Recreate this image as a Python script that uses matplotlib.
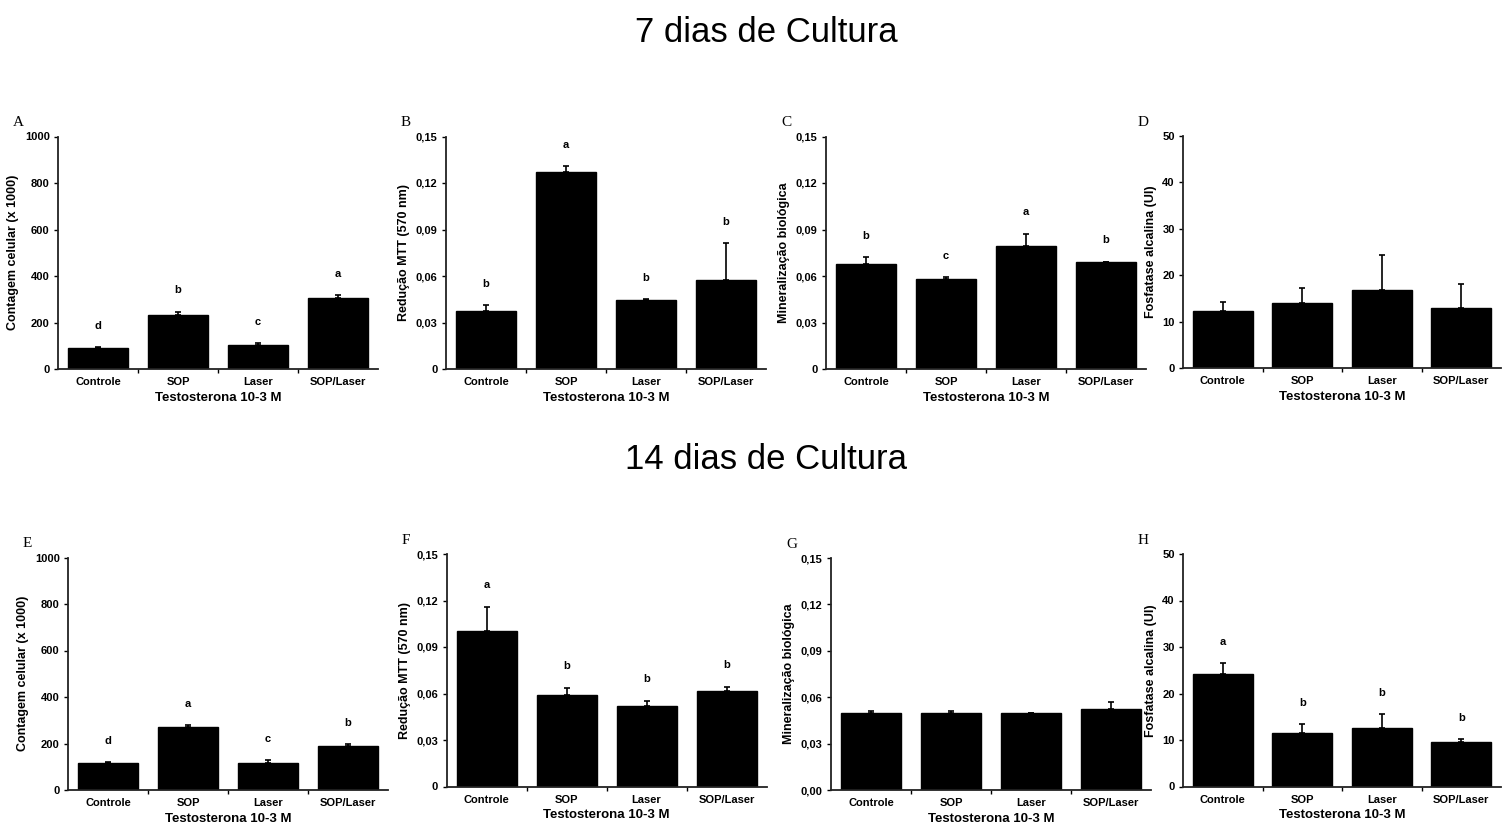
import matplotlib
matplotlib.use("Agg")
import matplotlib.pyplot as plt
from matplotlib.ticker import FixedLocator

plt.rcParams['font.family'] = ['Liberation Sans', 'DejaVu Sans']

groups = ["Controle", "SOP", "Laser", "SOP/Laser"]
xlabel = "Testosterona 10-3 M"

# 7 dias
cont_7 = [90, 233, 104, 304]
cont_7_err = [5, 14, 8, 13]
cont_7_sig = ["d", "b", "c", "a"]

mtt_7 = [0.0374, 0.1272, 0.0443, 0.0572]
mtt_7_err = [0.0039, 0.0035, 0.0008, 0.0240]
mtt_7_sig = ["b", "a", "b", "b"]

min_7 = [0.0679, 0.0580, 0.0795, 0.0688]
min_7_err = [0.0041, 0.0013, 0.0078, 0.0004]
min_7_sig = ["b", "c", "a", "b"]

fa_7 = [12.2, 14.0, 16.8, 13.0]
fa_7_err = [2.1, 3.3, 7.6, 5.0]

# 14 dias
cont_14 = [115, 273, 118, 189]
cont_14_err = [4, 5, 11, 9]
cont_14_sig = ["d", "a", "c", "b"]

mtt_14 = [0.1004, 0.0591, 0.0522, 0.0617]
mtt_14_err = [0.0156, 0.0047, 0.0032, 0.0028]
mtt_14_sig = ["a", "b", "b", "b"]

min_14 = [0.0496, 0.0496, 0.0496, 0.0522]
min_14_err = [0.0013, 0.0013, 0.0004, 0.0050]

fa_14 = [24.2, 11.5, 12.5, 9.5]
fa_14_err = [2.3, 1.9, 3.0, 0.7]
fa_14_sig = ["a", "b", "b", "b"]

y_cont = [0, 200, 400, 600, 800, 1000]
y_cont_lbl = ["0", "200", "400", "600", "800", "1000"]
y_frac = [0, 0.03, 0.06, 0.09, 0.12, 0.15]
y_frac_lbl = ["0", "0,03", "0,06", "0,09", "0,12", "0,15"]
y_frac_lbl0 = ["0,00", "0,03", "0,06", "0,09", "0,12", "0,15"]
y_fa = [0, 10, 20, 30, 40, 50]
y_fa_lbl = ["0", "10", "20", "30", "40", "50"]

W, H = 1502, 827
fig = plt.figure(figsize=(W / 100, H / 100), dpi=100)


def panel(px_left, px_top, px_bottom, letter, vals, errs, sig, ylab, yt, ytl,
          px_width=320):
    ax = fig.add_axes([px_left / W, 1 - px_bottom / H, px_width / W,
                       (px_bottom - px_top) / H])
    x = list(range(len(groups)))
    ax.bar(x, vals, width=0.75, color="black", edgecolor="black", zorder=2)
    ax.errorbar(x, vals, yerr=[[0] * len(errs), errs], fmt="none",
                ecolor="black", elinewidth=1.2, capsize=2.5, capthick=1.2,
                zorder=3)
    ymax = yt[-1]
    ax.set_xlim(-0.5, 3.5)
    ax.set_ylim(0, ymax)
    ax.set_yticks(yt)
    ax.set_yticklabels(ytl, fontsize=8, fontweight="bold")
    ax.set_xticks(x)
    ax.set_xticklabels(groups, fontsize=8, fontweight="bold")
    ax.tick_params(axis="x", length=0, pad=6)
    ax.xaxis.set_minor_locator(FixedLocator([0.5, 1.5, 2.5]))
    ax.tick_params(axis="x", which="minor", length=3, width=1, direction="out")
    ax.tick_params(axis="y", length=3, width=1, direction="out", pad=3)
    for s in ["top", "right"]:
        ax.spines[s].set_visible(False)
    for s in ["left", "bottom"]:
        ax.spines[s].set_linewidth(1.3)
        ax.spines[s].set_color("#222222")
    ax.set_ylabel(ylab, fontsize=9, fontweight="bold", labelpad=4)
    ax.set_xlabel(xlabel, fontsize=9.5, fontweight="bold", labelpad=3)
    if sig:
        for xi, v, e, s in zip(x, vals, errs, sig):
            ax.text(xi, v + e + 0.07 * ymax, s, ha="center", va="bottom",
                    fontsize=8, fontweight="bold")
    fig.text((px_left - 45) / W, 1 - (px_top - 14) / H, letter,
             family="Liberation Serif", fontsize=11, ha="left", va="center")
    return ax


panel(58, 136.5, 369, "A", cont_7, cont_7_err, cont_7_sig,
      "Contagem celular (x 1000)", y_cont, y_cont_lbl)
panel(446, 136.5, 369, "B", mtt_7, mtt_7_err, mtt_7_sig,
      "Redução MTT (570 nm)", y_frac, y_frac_lbl)
panel(826, 136.5, 369, "C", min_7, min_7_err, min_7_sig,
      "Mineralização biológica", y_frac, y_frac_lbl)
panel(1183, 136, 368, "D", fa_7, fa_7_err, None,
      "Fosfatase alcalina (UI)", y_fa, y_fa_lbl, px_width=318)

panel(68, 557.5, 790, "E", cont_14, cont_14_err, cont_14_sig,
      "Contagem celular (x 1000)", y_cont, y_cont_lbl)
panel(446.5, 554, 786.5, "F", mtt_14, mtt_14_err, mtt_14_sig,
      "Redução MTT (570 nm)", y_frac, y_frac_lbl)
panel(831, 558, 790, "G", min_14, min_14_err, None,
      "Mineralização biológica", y_frac, y_frac_lbl0)
panel(1183, 554, 786.5, "H", fa_14, fa_14_err, fa_14_sig,
      "Fosfatase alcalina (UI)", y_fa, y_fa_lbl, px_width=318)

fig.text(766 / W, 1 - 32 / H, "7 dias de Cultura", fontsize=25,
         ha="center", va="center")
fig.text(766 / W, 1 - 460 / H, "14 dias de Cultura", fontsize=25,
         ha="center", va="center")

fig.savefig("out.png", dpi=100)
